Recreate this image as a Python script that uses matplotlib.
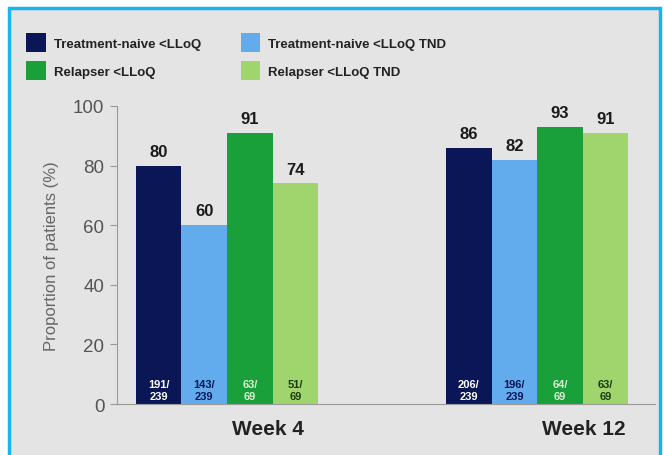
import matplotlib.pyplot as plt
import numpy as np
from matplotlib.patches import Rectangle
from matplotlib.transforms import ScaledTranslation

plt.rcParams['font.family'] = ['Liberation Sans', 'DejaVu Sans']

# data
weeks = ['Week 4', 'Week 12']
series = ['Treatment-naive <LLoQ', 'Relapser <LLoQ',
          'Treatment-naive <LLoQ TND', 'Relapser <LLoQ TND']
# values in drawing order: TN, TN TND, Rel, Rel TND
tn = [80, 86]
tn_tnd = [60, 82]
rel = [91, 93]
rel_tnd = [74, 91]
tn_n = ['191/\n239', '206/\n239']
tn_tnd_n = ['143/\n239', '196/\n239']
rel_n = ['63/\n69', '64/\n69']
rel_tnd_n = ['51/\n69', '63/\n69']

colors = ['#0b1656', '#62acee', '#19a03a', '#9fd56c']
inner_text = ['white', '#0b1656', '#d8f0d0', '#1a3a10']

fig = plt.figure(figsize=(6.64, 4.56), dpi=100, facecolor='white')
# cyan frame with grey panel
fig.patches.append(Rectangle((9/664, -0.05), 651/664, 1.05 - 9/456,
                             transform=fig.transFigure, facecolor='#e4e4e4',
                             edgecolor='#19b4ef', linewidth=2.5, zorder=-10))

ax = fig.add_axes([117/664, 1 - 405/456, (655 - 117)/664, (405 - 107)/456])
ax.set_facecolor('none')

x = np.arange(len(weeks))
w = 0.147
vals = [tn, tn_tnd, rel, rel_tnd]
ns = [tn_n, tn_tnd_n, rel_n, rel_tnd_n]
names = [series[0], series[2], series[1], series[3]]
handles = {}
for i, (v, n, c, tc, name) in enumerate(zip(vals, ns, colors, inner_text, names)):
    xs = x + (i - 1.5) * w
    b = ax.bar(xs, v, width=w, color=c, label=name)
    handles[name] = b
    for xi, vi, ni in zip(xs, v, n):
        ax.text(xi, vi + 2.3, str(vi), ha='center', va='bottom',
                fontsize=12, fontweight='bold', color='#1a1a1a')
        ax.text(xi, 4.7, ni, ha='center', va='center', fontsize=8,
                fontweight='bold', color=tc, linespacing=1.35)

ax.set_ylim(0, 100)
ax.set_xlim(-0.355, 1.38)
ax.set_yticks(range(0, 101, 20))
ax.tick_params(axis='y', colors='#9a9a9a', labelcolor='#555555',
               labelsize=13.5, length=5, pad=4)
ax.set_xticks(x)
ax.set_xticklabels(weeks, fontsize=15, fontweight='bold', color='#222222', ha='left')
ax.tick_params(axis='x', length=0, pad=11)
for lab in ax.get_xticklabels():
    lab.set_transform(lab.get_transform() + ScaledTranslation(0.05, 0, fig.dpi_scale_trans))
ax.set_ylabel('Proportion of patients (%)', fontsize=12, color='#666666', labelpad=10)
for s in ['top', 'right']:
    ax.spines[s].set_visible(False)
ax.spines['left'].set_color('#9a9a9a')
ax.spines['bottom'].set_color('#9a9a9a')

fig.legend([handles[s] for s in series], series, loc='upper left',
           bbox_to_anchor=(26/664, 1 - 34/456), ncol=2, frameon=False,
           prop={'size': 9.5, 'weight': 'bold'}, handlelength=1.5, handleheight=1.85,
           columnspacing=3.0, labelspacing=0.7, handletextpad=0.6,
           borderpad=0, borderaxespad=0, labelcolor='#222222')

fig.savefig('out.png', dpi=100, facecolor='white')
